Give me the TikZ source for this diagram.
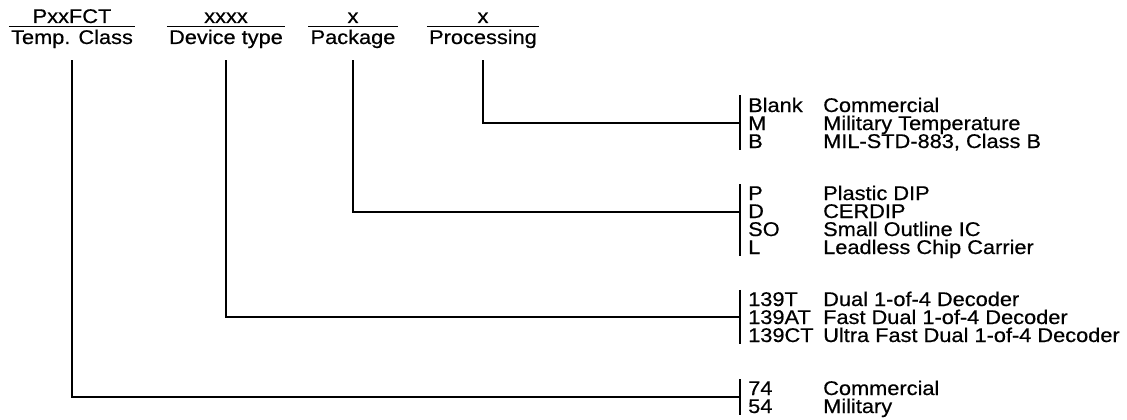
\documentclass[tikz,border=0pt]{standalone}
\usepackage{fontspec}
\setmainfont{Liberation Sans}[FakeStretch=1.1, FakeBold=0.5]
\usepackage{tikz}
\usetikzlibrary{positioning, calc}

\tikzset{
  hdr/.style={anchor=base, inner xsep=2pt, inner ysep=3pt},
  hcode/.style={anchor=base, inner sep=0pt},
  code/.style={anchor=base west, inner xsep=0pt, inner ysep=2pt},
  desc/.style={anchor=base west, inner sep=0pt},
  wire/.style={line width=1.1pt}
}

\begin{document}
\begin{tikzpicture}[x=1pt, y=-1pt, font=\fontsize{19.8}{22}\selectfont]
      \useasboundingbox (0,0) rectangle (1127,420);

      % header fields
      \node[hdr] (temp) at (72,44) {Temp. Class};
      \node[hdr] (dev) at (226,44) {Device type};
      \node[hdr] (pkg) at (353,44) {Package};
      \node[hdr] (proc) at (483,44) {Processing};
      \node[hcode] (tempc) at (72,23) {PxxFCT};
      \node[hcode] (devc) at (226,23) {xxxx};
      \node[hcode] (pkgc) at (353,23) {x};
      \node[hcode] (procc) at (483,23) {x};
      \foreach \h in {temp, dev, pkg, proc}
        \draw[wire] (\h.north west) -- (\h.north east);

      % processing
      \node[code] (cBlank) at (748,112) {Blank};
      \node[code] (cM) at (748,130) {M};
      \node[code] (cB) at (748,148) {B};
      \node[desc] (dBlank) at (823,112) {Commercial};
      \node[desc] (dM) at (823,130) {Military Temperature};
      \node[desc] (dB) at (823,148) {MIL-STD-883, Class B};

      % package
      \node[code] (cP) at (748,200) {P};
      \node[code] (cD) at (748,218) {D};
      \node[code] (cSO) at (748,236) {SO};
      \node[code] (cL) at (748,254) {L};
      \node[desc] (dP) at (823,200) {Plastic DIP};
      \node[desc] (dD) at (823,218) {CERDIP};
      \node[desc] (dSO) at (823,236) {Small Outline IC};
      \node[desc] (dL) at (823,254) {Leadless Chip Carrier};

      % device type
      \node[code] (cT) at (748,306) {139T};
      \node[code] (cAT) at (748,324) {139AT};
      \node[code] (cCT) at (748,342) {139CT};
      \node[desc] (dT) at (823,306) {Dual 1-of-4 Decoder};
      \node[desc] (dAT) at (823,324) {Fast Dual 1-of-4 Decoder};
      \node[desc] (dCT) at (823,342) {Ultra Fast Dual 1-of-4 Decoder};

      % temperature class
      \node[code] (c74) at (748,395) {74};
      \node[code] (c54) at (748,413) {54};
      \node[desc] (d74) at (823,395) {Commercial};
      \node[desc] (d54) at (823,413) {Military};

      % brackets
      \draw[wire] ([xshift=-8pt]cBlank.north west) -- ([xshift=-8pt]cB.south west);
      \draw[wire] ([xshift=-8pt]cP.north west) -- ([xshift=-8pt]cL.south west);
      \draw[wire] ([xshift=-8pt]cT.north west) -- ([xshift=-8pt]cCT.south west);
      \draw[wire] ([xshift=-8pt]c74.north west) -- ([xshift=-8pt]c54.south west);

      \coordinate (jproc) at (740,123);
      \coordinate (jpkg) at (740,212);
      \coordinate (jdev) at (740,317);
      \coordinate (jtemp) at (740,397);

      \draw[wire] ([yshift=-9pt]proc.south) |- (jproc);
      \draw[wire] ([yshift=-9pt]pkg.south) |- (jpkg);
      \draw[wire] ([yshift=-9pt]dev.south) |- (jdev);
      \draw[wire] ([yshift=-9pt]temp.south) |- (jtemp);
\end{tikzpicture}
\end{document}
